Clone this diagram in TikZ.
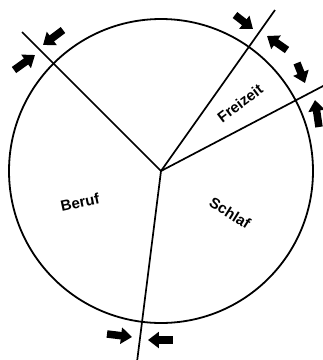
\documentclass[tikz,border=0pt]{standalone}
\usepackage{fontspec}
\setmainfont{Liberation Sans}
\usepackage{tikz}
\usetikzlibrary{arrows.meta}

\begin{document}
\begin{tikzpicture}[
  x=1pt,y=-1pt,
  rim/.style={line width=1.8pt},
  spoke/.style={line width=1.7pt},
  push/.style={line width=7.5pt,-{Triangle[length=11pt,width=16pt]}},
  sector/.style={font=\fontsize{15}{17}\selectfont\bfseries,inner sep=0pt}
]
\useasboundingbox (0,0) rectangle (323,360);
\coordinate (hub) at (161,171);
\draw[rim] (hub) circle[radius=152];
% spokes
\coordinate (nwEnd) at (22,32);
\coordinate (neEnd) at (275,10);
\coordinate (eEnd) at (325,85);
\coordinate (sEnd) at (137,362);
\draw[spoke] (hub) -- (nwEnd);
\draw[spoke] (hub) -- (neEnd);
\draw[spoke] (hub) -- (eEnd);
\draw[spoke] (hub) -- (sEnd);
% sectors
\node[sector,rotate=12] (beruf) at (80,202) {Beruf};
\node[sector,rotate=-32] (schlaf) at (230,213) {Schlaf};
\node[sector,rotate=37] (freizeit) at (240,103) {Freizeit};
% arrows
\coordinate (nwA) at (63,30);  \coordinate (nwAtip) at (43,45);
\coordinate (nwB) at (14,70);  \coordinate (nwBtip) at (35,55);
\coordinate (neA) at (235,15); \coordinate (neAtip) at (253,29);
\coordinate (neB) at (287,50); \coordinate (neBtip) at (267,36);
\coordinate (eA) at (297,63);  \coordinate (eAtip) at (305,83);
\coordinate (eB) at (319,127); \coordinate (eBtip) at (315,100);
\coordinate (sA) at (107,334); \coordinate (sAtip) at (132,337);
\coordinate (sB) at (173,340); \coordinate (sBtip) at (148,340);
\draw[push] (nwA) -- (nwAtip);
\draw[push] (nwB) -- (nwBtip);
\draw[push] (neA) -- (neAtip);
\draw[push] (neB) -- (neBtip);
\draw[push] (eA) -- (eAtip);
\draw[push] (eB) -- (eBtip);
\draw[push] (sA) -- (sAtip);
\draw[push] (sB) -- (sBtip);
\end{tikzpicture}
\end{document}
